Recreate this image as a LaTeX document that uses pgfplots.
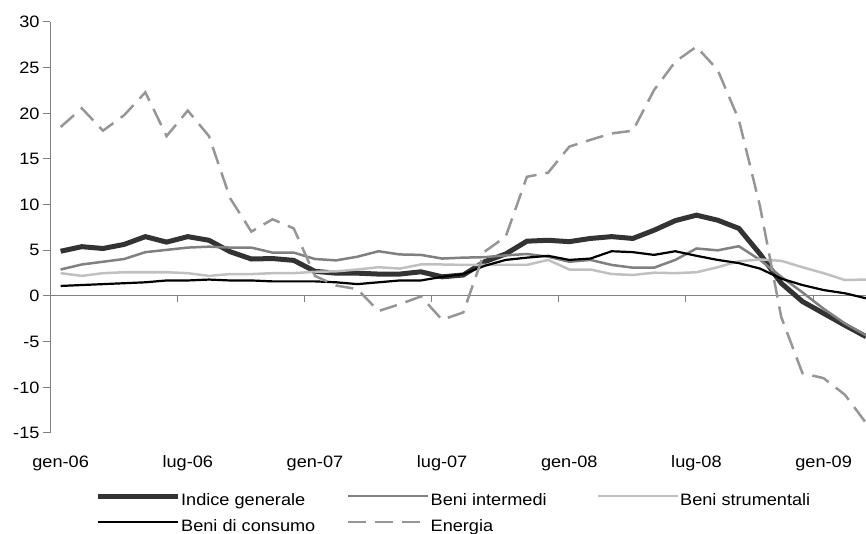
\documentclass[border=0pt]{standalone}
\usepackage{fontspec}
\setmainfont[FakeStretch=1.1]{Liberation Sans}
\usepackage{pgfplots}
\pgfplotsset{compat=1.18}
\usepackage{pgfplotstable}

% variazioni tendenziali, gen-06 .. mar-09
\pgfplotstableread{
m ig bi bs bc en
0 4.9 2.9 2.5 1.1 18.5
1 5.4 3.45 2.2 1.2 20.55
2 5.2 3.75 2.5 1.3 18.1
3 5.65 4.05 2.6 1.4 19.8
4 6.5 4.8 2.6 1.5 22.3
5 5.9 5.05 2.6 1.7 17.5
6 6.5 5.3 2.5 1.7 20.3
7 6.1 5.4 2.2 1.8 17.5
8 4.85 5.3 2.4 1.7 10.7
9 4.05 5.3 2.4 1.7 7.05
10 4.1 4.75 2.5 1.6 8.4
11 3.9 4.75 2.5 1.6 7.4
12 2.7 4.05 2.65 1.6 2.2
13 2.5 3.9 2.7 1.5 1.15
14 2.5 4.3 2.9 1.3 0.75
15 2.4 4.9 3.15 1.5 -1.65
16 2.4 4.55 3.0 1.7 -0.9
17 2.65 4.5 3.45 1.7 -0.05
18 2.1 4.1 3.45 2.1 -2.6
19 2.3 4.2 3.4 2.4 -1.8
20 3.75 4.25 3.4 3.3 4.85
21 4.6 4.45 3.4 3.95 6.5
22 6.0 4.6 3.4 4.2 13.05
23 6.1 4.3 3.95 4.4 13.5
24 5.95 3.75 2.9 3.95 16.35
25 6.3 3.95 2.9 4.1 17.1
26 6.5 3.4 2.4 4.9 17.8
27 6.3 3.1 2.3 4.8 18.1
28 7.2 3.1 2.55 4.5 22.55
29 8.25 3.95 2.5 4.9 25.65
30 8.85 5.2 2.6 4.4 27.3
31 8.3 5.0 3.15 3.95 24.75
32 7.4 5.45 3.8 3.6 19.3
33 4.6 3.95 4.0 3.0 9.8
34 1.4 2.1 3.85 1.9 -2.3
35 -0.6 0.4 3.15 1.2 -8.45
36 -1.9 -1.4 2.5 0.65 -9.0
37 -3.2 -3.0 1.75 0.3 -10.8
38 -4.45 -4.3 1.8 -0.25 -13.9
}\dati

\definecolor{cig}{RGB}{51,51,51}
\definecolor{cbi}{RGB}{128,128,128}
\definecolor{cbs}{RGB}{192,192,192}
\definecolor{cen}{RGB}{150,150,150}
\definecolor{cax}{RGB}{128,128,128}

\begin{document}
\begin{tikzpicture}
\useasboundingbox (-50pt,-101pt) rectangle (816pt,433pt);
% asse orizzontale a quota zero con tacche
\begin{axis}[
  at={(0pt,0pt)}, anchor=south west,
  scale only axis, width=816pt, height=411pt,
  xmin=-0.5, xmax=38, ymin=-15, ymax=30,
  axis x line=middle, axis y line=none,
  axis line style={cax, line width=1pt, -},
  xtick={5.5,11.5,17.5,23.5,29.5,35.5}, xticklabels={},
  ytick=\empty,
  tick align=outside, major tick length=6pt,
  tick style={cax, line width=1pt},
]
\end{axis}
\begin{axis}[
  at={(0pt,0pt)}, anchor=south west,
  scale only axis, width=816pt, height=411pt,
  xmin=-0.5, xmax=38, ymin=-15, ymax=30,
  axis x line*=bottom, axis y line*=left,
  x axis line style={draw=none},
  y axis line style={cax, line width=1pt, -},
  xtick={0,6,12,18,24,30,36},
  xticklabels={gen-06,lug-06,gen-07,lug-07,gen-08,lug-08,gen-09},
  xtick style={draw=none},
  xticklabel style={anchor=base, yshift=-28pt},
  ytick={-15,-10,...,30},
  yticklabels={-15,-10,-5,0,5,10,15,20,25,30},
  ytick style={cax, line width=1pt},
  tick align=outside, major tick length=7pt,
  ticklabel style={font=\fontsize{16.5}{19}\selectfont},
  legend columns=3,
  legend style={at={(axis description cs:0.0551,-0.146)}, anchor=north west,
    draw=none, fill=none, inner sep=0pt,
    font=\fontsize{16.5}{19}\selectfont,
    nodes={inner sep=0pt, text height=12pt, text depth=4pt},
    row sep=10pt,
    /tikz/every odd column/.style={column sep=1pt}},
  legend image code/.code={\draw[#1] (0pt,5pt) -- (80pt,5pt);},
]
\addplot[cig, line width=5pt] table[x=m, y=ig] {\dati};
\addlegendentry{\makebox[166pt][l]{Indice generale}}
\addplot[cbi, line width=2.5pt] table[x=m, y=bi] {\dati};
\addlegendentry{\makebox[166pt][l]{Beni intermedi}}
\addplot[cbs, line width=2.5pt] table[x=m, y=bs] {\dati};
\addlegendentry{\makebox[166pt][l]{Beni strumentali}}
\addplot[black, line width=2.2pt] table[x=m, y=bc] {\dati};
\addlegendentry{\makebox[166pt][l]{Beni di consumo}}
\addplot[cen, line width=2.5pt, dash pattern=on 18pt off 9pt] table[x=m, y=en] {\dati};
\addlegendentry{\makebox[166pt][l]{Energia}}
\end{axis}
\end{tikzpicture}
\end{document}
